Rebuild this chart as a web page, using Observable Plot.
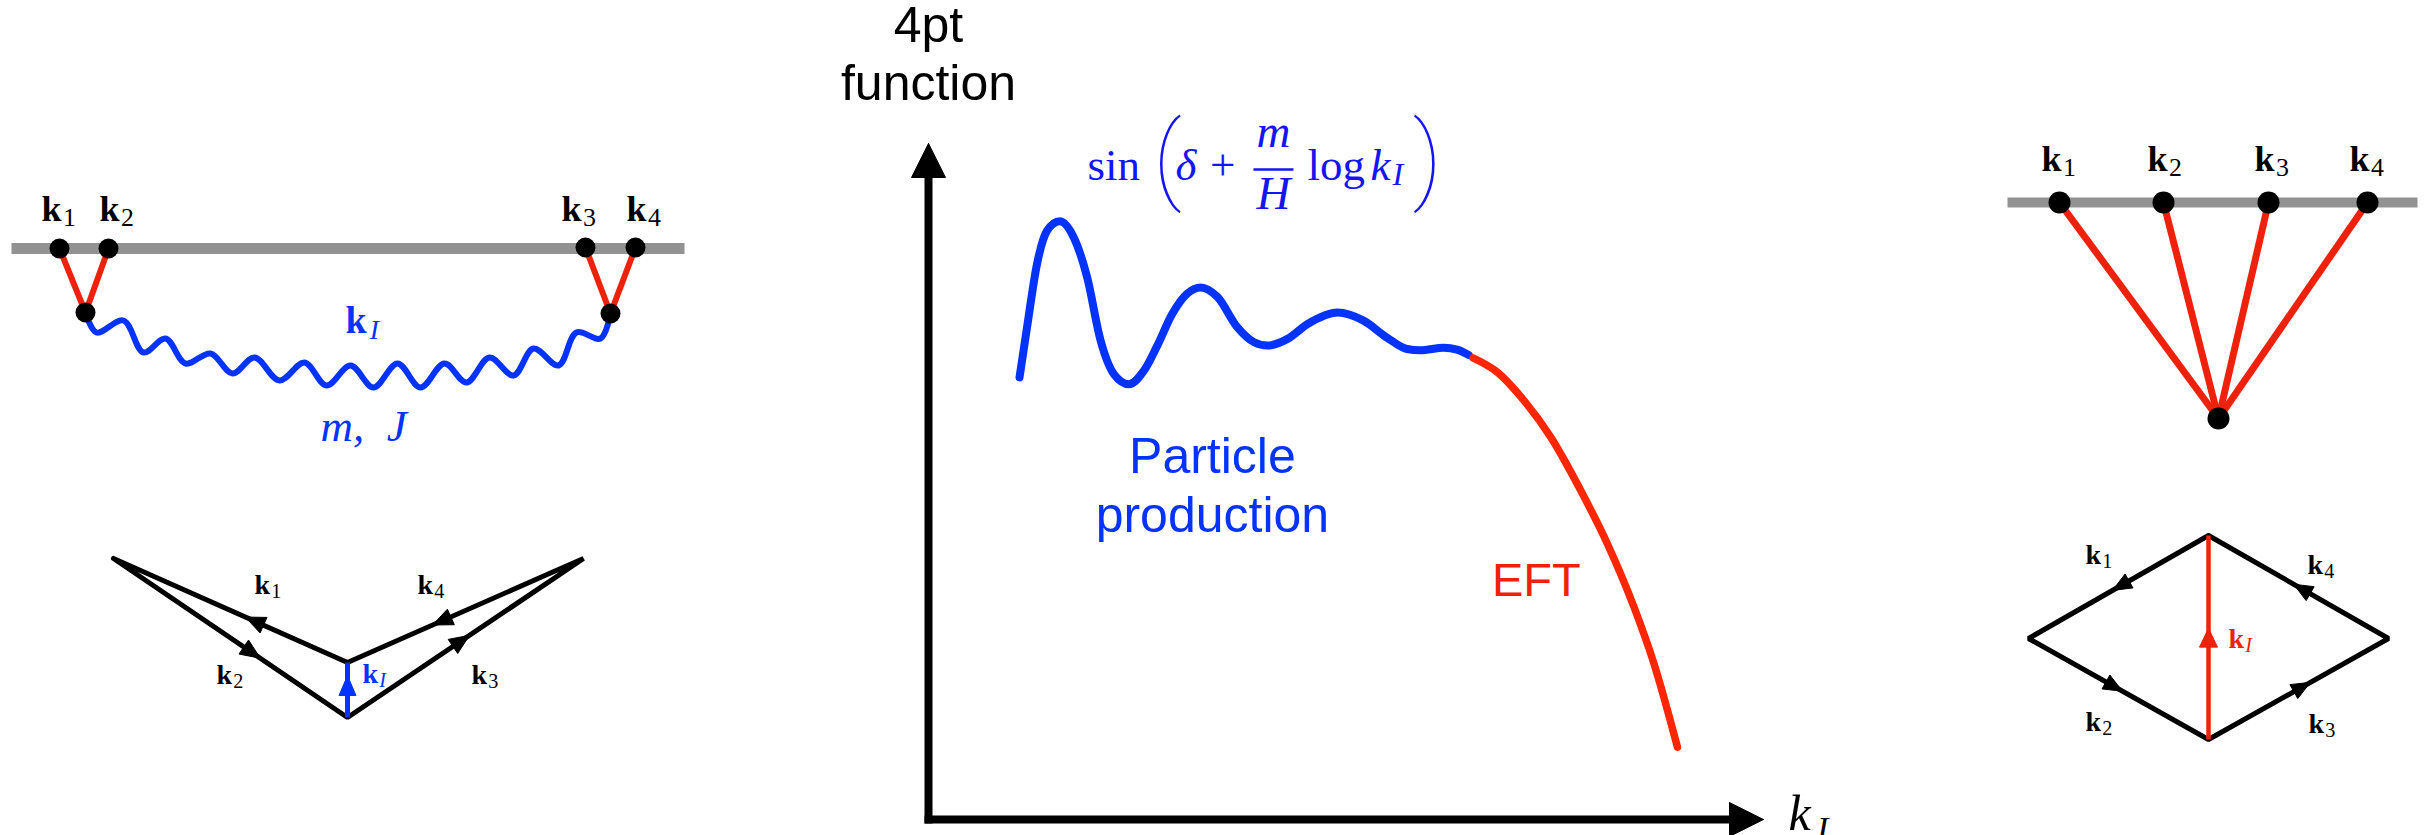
<!DOCTYPE html>
<html><head><meta charset="utf-8">
<script src="https://cdn.jsdelivr.net/npm/d3@7"></script>
<script src="https://cdn.jsdelivr.net/npm/@observablehq/plot@0.6"></script>
<style>
html,body{margin:0;padding:0;background:#fff;}
#fig{position:relative;width:2430px;height:835px;overflow:hidden;background:#fff;}
#fig svg{position:absolute;left:0;top:0;}
</style></head><body><div id="fig"></div>
<script>
// ================= central chart data (x: k_I, y: 4pt function, arbitrary units) =================
const particleK = [1.09,1.18,1.30,1.42,1.57,1.74,1.90,2.06,2.22,2.40,2.58,2.74,2.92,3.10,3.26,3.46,3.70,3.90,4.06,4.30,4.54,4.90,5.21,5.49,5.73,5.89,6.17,6.33,6.47];
const particleF = [6.54,7.28,8.22,8.71,8.85,8.61,8.02,7.09,6.59,6.44,6.64,7.01,7.48,7.78,7.87,7.73,7.28,7.06,7.01,7.11,7.33,7.50,7.38,7.13,6.96,6.94,6.98,6.95,6.87];
const eftK = [6.52,6.81,7.13,7.45,7.81,8.13,8.45,8.69,8.97];
const eftF = [6.83,6.62,6.20,5.66,4.87,4.08,3.14,2.30,1.07];
const axisMax = {k: 10, f: 10};
const chartTitle = [{k: 0, f: 10.64, text: "4pt\nfunction"}];
const regionLabels = [{k: 3.40, f: 4.25, text: "Particle\nproduction"}];
const eftLabel = [{k: 7.28, f: 3.31, text: "EFT"}];
const axisLabel = [{k: 10.30, f: -0.15, text: "k", sub: "I", sk: 10.64, sf: -0.30}];
// formula  sin( δ + m/H log k_I )
const formulaUpright = [{k: 1.904, f: 9.453, text: "sin"}, {k: 3.37, f: 9.453, text: "+"}, {k: 4.539, f: 9.453, text: "log"}];
const formulaItalic = [{k: 2.958, f: 9.453, text: "δ"}, {k: 5.293, f: 9.453, text: "k"}];
const formulaFraction = [{k: 4.132, f: 9.941, text: "m"}, {k: 4.132, f: 9.038, text: "H"}];
const formulaBar = [{k1: 3.892, k2: 4.371, f: 9.615}];
const formulaSub = [{k: 5.557, f: 9.379, text: "I"}];
const formulaDelims = [{k: 2.69, f: 9.30, text: "("}, {k: 5.80, f: 9.30, text: ")"}];

// ================= diagram data (figure units, y downward) =================
// left: exchange diagram
const exchangeHorizon = [{x1: 11, x2: 684, y: 248}];
const exchangeBoundary = [{x: 59, y: 248}, {x: 108, y: 248}, {x: 585, y: 247}, {x: 635, y: 247}];
const exchangeVertices = [{x: 85, y: 312}, {x: 610, y: 313}];
const exchangeLegVertex = [0, 0, 1, 1];
const exchangeWave = [[85,312],[96,332],[123,320],[143,352],[165,338],[185,363],[210,353],[232,373],[254,357],[279,380],[304,362],[326,385],[350,365],[373,387],[397,363],[420,387],[444,363],[466,382],[489,357],[513,375],[533,348],[558,365],[576,332],[600,338],[610,313]];
const exchangeLabels = [{x: 41, y: 220, p: "1"}, {x: 99, y: 220, p: "2"}, {x: 561, y: 220, p: "3"}, {x: 626, y: 220, p: "4"}];
const exchangeKI = [{x: 345, y: 332, p: "I"}];
const exchangeMassSpin = [{x: 363, y: 440, text: "m,  J"}];
// left bottom: momentum kite
const kiteNodes = {L: {x: 113, y: 558}, R: {x: 583, y: 558}, M: {x: 347, y: 662}, O: {x: 347, y: 717}};
const kiteOutline = ["L", "M", "R", "O", "L"];
const kiteEdges = [{from: "M", to: "L", at: 0.39, p: "1"}, {from: "L", to: "O", at: 0.585, p: "2"}, {from: "O", to: "R", at: 0.475, p: "3"}, {from: "R", to: "M", at: 0.593, p: "4"}, {from: "O", to: "M", at: 0.545, p: "I"}];
const kiteLabels = [{x: 254, y: 593, p: "1"}, {x: 216, y: 683, p: "2"}, {x: 471, y: 683, p: "3"}, {x: 417, y: 593, p: "4"}, {x: 362, y: 682, p: "I"}];
// right: contact diagram
const contactHorizon = [{x1: 2007, x2: 2417, y: 202}];
const contactBoundary = [{x: 2059, y: 202}, {x: 2163, y: 202}, {x: 2268, y: 202}, {x: 2367, y: 202}];
const contactVertex = [{x: 2218, y: 418}];
const contactLabels = [{x: 2041, y: 170, p: "1"}, {x: 2147, y: 170, p: "2"}, {x: 2254, y: 170, p: "3"}, {x: 2349, y: 170, p: "4"}];
// right bottom: momentum diamond
const diamondNodes = {T: {x: 2208, y: 535}, L: {x: 2028, y: 638}, R: {x: 2388, y: 638}, B: {x: 2208, y: 739}};
const diamondOutline = ["T", "L", "B", "R", "T"];
const diamondEdges = [{from: "T", to: "L", at: 0.478, p: "1"}, {from: "L", to: "B", at: 0.467, p: "2"}, {from: "B", to: "R", at: 0.511, p: "3"}, {from: "R", to: "T", at: 0.472, p: "4"}, {from: "B", to: "T", at: 0.49, p: "I"}];
const diamondLabels = [{x: 2085, y: 563, p: "1"}, {x: 2085, y: 730, p: "2"}, {x: 2308, y: 732, p: "3"}, {x: 2307, y: 573, p: "4"}, {x: 2228, y: 647, p: "I"}];

// ================= styling & layout =================
const W = 2430, H = 835;
const BLUE = "#0433ff", MATHBLUE = "#1414f5", RED = "#ee220c", CURVERED = "#ff2600", GRAY = "#929292";
const SERIF = "'Liberation Serif', 'DejaVu Serif', serif";
const SANS = "'Liberation Sans', Arial, Helvetica, sans-serif";
const chartXRange = [928, 1763], chartYRange = [819, 143];

function arrowHeads(nodes, edges, len, wid) {
  const rows = [];
  edges.forEach((e, i) => {
    const p = nodes[e.from], q = nodes[e.to];
    const dx = q.x - p.x, dy = q.y - p.y, d = Math.hypot(dx, dy);
    const ux = dx / d, uy = dy / d, nx = -uy, ny = ux;
    const cx = p.x + e.at * dx, cy = p.y + e.at * dy;
    const id = "a" + i;
    const tip = {id, x: cx + ux * len * 0.6, y: cy + uy * len * 0.6};
    rows.push(tip);
    rows.push({id, x: cx - ux * len * 0.4 + nx * wid / 2, y: cy - uy * len * 0.4 + ny * wid / 2});
    rows.push({id, x: cx - ux * len * 0.4 - nx * wid / 2, y: cy - uy * len * 0.4 - ny * wid / 2});
    rows.push(tip);
  });
  return rows;
}
function momentumLabels(rows, size, fill, subDx = 0.6) {
  const common = {x: "x", y: "y", textAnchor: "start", lineAnchor: "bottom", fill, fontFamily: SERIF};
  return [
    Plot.text(rows, {...common, text: () => "k", fontWeight: "bold", fontSize: size}),
    Plot.text(rows.filter(d => d.p !== "I"), {...common, text: "p", fontSize: size * 0.72, dx: size * subDx, dy: size * 0.15}),
    Plot.text(rows.filter(d => d.p === "I"), {...common, text: "p", fontSize: size * 0.72, fontStyle: "italic", dx: size * subDx, dy: size * 0.17})
  ];
}
const path = (nodes, order) => order.map(n => nodes[n]);
const internal = e => e.p === "I";

const diagram = Plot.plot({
  width: W, height: H, margin: 0,
  x: {domain: [0, W], range: [0, W], axis: null},
  y: {domain: [0, H], range: [0, H], axis: null},
  style: {background: "transparent"},
  marks: [
    // exchange diagram
    Plot.link(exchangeHorizon, {x1: "x1", x2: "x2", y1: "y", y2: "y", stroke: GRAY, strokeWidth: 11}),
    Plot.link(exchangeBoundary, {x1: "x", y1: "y", x2: (d, i) => exchangeVertices[exchangeLegVertex[i]].x, y2: (d, i) => exchangeVertices[exchangeLegVertex[i]].y, stroke: RED, strokeWidth: 6}),
    Plot.line(exchangeWave, {x: d => d[0], y: d => d[1], curve: "catmull-rom", stroke: BLUE, strokeWidth: 6}),
    Plot.dot(exchangeBoundary.concat(exchangeVertices), {x: "x", y: "y", r: 10, fill: "black"}),
    ...momentumLabels(exchangeLabels, 36, "black"),
    ...momentumLabels(exchangeKI, 38, BLUE, 0.64),
    Plot.text(exchangeMassSpin, {x: "x", y: "y", text: "text", fill: BLUE, fontFamily: SERIF, fontStyle: "italic", fontSize: 45, lineAnchor: "bottom"}),
    // kite
    Plot.line(path(kiteNodes, kiteOutline), {x: "x", y: "y", stroke: "black", strokeWidth: 5, strokeLinejoin: "miter"}),
    Plot.link([kiteEdges.find(internal)], {x1: e => kiteNodes[e.from].x, y1: e => kiteNodes[e.from].y, x2: e => kiteNodes[e.to].x, y2: e => kiteNodes[e.to].y, stroke: BLUE, strokeWidth: 5}),
    Plot.line(arrowHeads(kiteNodes, kiteEdges.filter(e => !internal(e)), 20, 17), {x: "x", y: "y", z: "id", fill: "black", stroke: "black", strokeWidth: 1}),
    Plot.line(arrowHeads(kiteNodes, kiteEdges.filter(internal), 20, 17), {x: "x", y: "y", z: "id", fill: BLUE, stroke: BLUE, strokeWidth: 1}),
    ...momentumLabels(kiteLabels.filter(d => d.p !== "I"), 28, "black"),
    ...momentumLabels(kiteLabels.filter(d => d.p === "I"), 28, BLUE),
    // contact diagram
    Plot.link(contactHorizon, {x1: "x1", x2: "x2", y1: "y", y2: "y", stroke: GRAY, strokeWidth: 10}),
    Plot.link(contactBoundary, {x1: "x", y1: "y", x2: () => contactVertex[0].x, y2: () => contactVertex[0].y, stroke: RED, strokeWidth: 7}),
    Plot.dot(contactBoundary.concat(contactVertex), {x: "x", y: "y", r: 11, fill: "black"}),
    ...momentumLabels(contactLabels, 36, "black"),
    // diamond
    Plot.line(path(diamondNodes, diamondOutline), {x: "x", y: "y", stroke: "black", strokeWidth: 5, strokeLinejoin: "miter"}),
    Plot.link([diamondEdges.find(internal)], {x1: e => diamondNodes[e.from].x, y1: e => diamondNodes[e.from].y, x2: e => diamondNodes[e.to].x, y2: e => diamondNodes[e.to].y, stroke: RED, strokeWidth: 4.5}),
    Plot.line(arrowHeads(diamondNodes, diamondEdges.filter(e => !internal(e)), 19, 16), {x: "x", y: "y", z: "id", fill: "black", stroke: "black", strokeWidth: 1}),
    Plot.line(arrowHeads(diamondNodes, diamondEdges.filter(internal), 19, 18), {x: "x", y: "y", z: "id", fill: RED, stroke: RED, strokeWidth: 1}),
    ...momentumLabels(diamondLabels.filter(d => d.p !== "I"), 28, "black"),
    ...momentumLabels(diamondLabels.filter(d => d.p === "I"), 28, RED)
  ]
});

// central chart
const pxK = (chartXRange[1] - chartXRange[0]) / axisMax.k;
const pxF = (chartYRange[0] - chartYRange[1]) / axisMax.f;
const headLen = 34, headHalf = 17;
const axisHeads = [
  {id: "y", k: 0, f: axisMax.f}, {id: "y", k: -headHalf / pxK, f: axisMax.f - headLen / pxF}, {id: "y", k: headHalf / pxK, f: axisMax.f - headLen / pxF}, {id: "y", k: 0, f: axisMax.f},
  {id: "x", k: axisMax.k, f: 0}, {id: "x", k: axisMax.k - headLen / pxK, f: headHalf / pxF}, {id: "x", k: axisMax.k - headLen / pxK, f: -headHalf / pxF}, {id: "x", k: axisMax.k, f: 0}
];
const axisLines = [
  {k1: 0, f1: 0, k2: 0, f2: axisMax.f - (headLen - 4) / pxF},
  {k1: 0, f1: 0, k2: axisMax.k - (headLen - 4) / pxK, f2: 0}
];
const particle = particleK.map((k, i) => ({k, f: particleF[i]}));
const eft = eftK.map((k, i) => ({k, f: eftF[i]}));

const chart = Plot.plot({
  width: W, height: H, margin: 0,
  x: {domain: [0, axisMax.k], range: chartXRange, axis: null},
  y: {domain: [0, axisMax.f], range: chartYRange, axis: null},
  style: {background: "transparent"},
  marks: [
    Plot.link(axisLines, {x1: "k1", y1: "f1", x2: "k2", y2: "f2", stroke: "black", strokeWidth: 8, strokeLinecap: "square"}),
    Plot.line(axisHeads, {x: "k", y: "f", z: "id", fill: "black", stroke: "black", strokeWidth: 1}),
    Plot.line(particle, {x: "k", y: "f", curve: "monotone-x", stroke: BLUE, strokeWidth: 8}),
    Plot.line(eft, {x: "k", y: "f", curve: "monotone-x", stroke: CURVERED, strokeWidth: 7.5}),
    Plot.text(chartTitle, {x: "k", y: "f", text: "text", fontFamily: SANS, fontSize: 50, lineHeight: 1.16, lineAnchor: "bottom", fill: "black"}),
    Plot.text(regionLabels, {x: "k", y: "f", text: "text", fontFamily: SANS, fontSize: 50, lineHeight: 1.18, lineAnchor: "bottom", fill: BLUE}),
    Plot.text(eftLabel, {x: "k", y: "f", text: "text", fontFamily: SANS, fontSize: 47, lineAnchor: "bottom", fill: RED}),
    Plot.text(axisLabel, {x: "k", y: "f", text: "text", fontFamily: SERIF, fontStyle: "italic", fontSize: 50, textAnchor: "start", lineAnchor: "bottom", fill: "black"}),
    Plot.text(axisLabel, {x: "sk", y: "sf", text: "sub", fontFamily: SERIF, fontStyle: "italic", fontSize: 34, textAnchor: "start", lineAnchor: "bottom", fill: "black"}),
    Plot.text(formulaUpright, {x: "k", y: "f", text: "text", fontFamily: SERIF, fontSize: 45, textAnchor: "start", lineAnchor: "bottom", fill: MATHBLUE}),
    Plot.text(formulaItalic, {x: "k", y: "f", text: "text", fontFamily: SERIF, fontStyle: "italic", fontSize: 45, textAnchor: "start", lineAnchor: "bottom", fill: MATHBLUE}),
    Plot.text(formulaFraction, {x: "k", y: "f", text: "text", fontFamily: SERIF, fontStyle: "italic", fontSize: 47, textAnchor: "middle", lineAnchor: "bottom", fill: MATHBLUE}),
    Plot.link(formulaBar, {x1: "k1", x2: "k2", y1: "f", y2: "f", stroke: MATHBLUE, strokeWidth: 2.5}),
    Plot.text(formulaSub, {x: "k", y: "f", text: "text", fontFamily: SERIF, fontStyle: "italic", fontSize: 32, textAnchor: "start", lineAnchor: "bottom", fill: MATHBLUE}),
    Plot.text(formulaDelims, {x: "k", y: "f", text: "text", fontFamily: "Roboto, 'Liberation Sans', sans-serif", fontWeight: 100, fontSize: 97, textAnchor: "start", lineAnchor: "bottom", fill: MATHBLUE})
  ]
});

const fig = document.getElementById("fig");
fig.appendChild(diagram);
fig.appendChild(chart);
</script>
</body></html>
